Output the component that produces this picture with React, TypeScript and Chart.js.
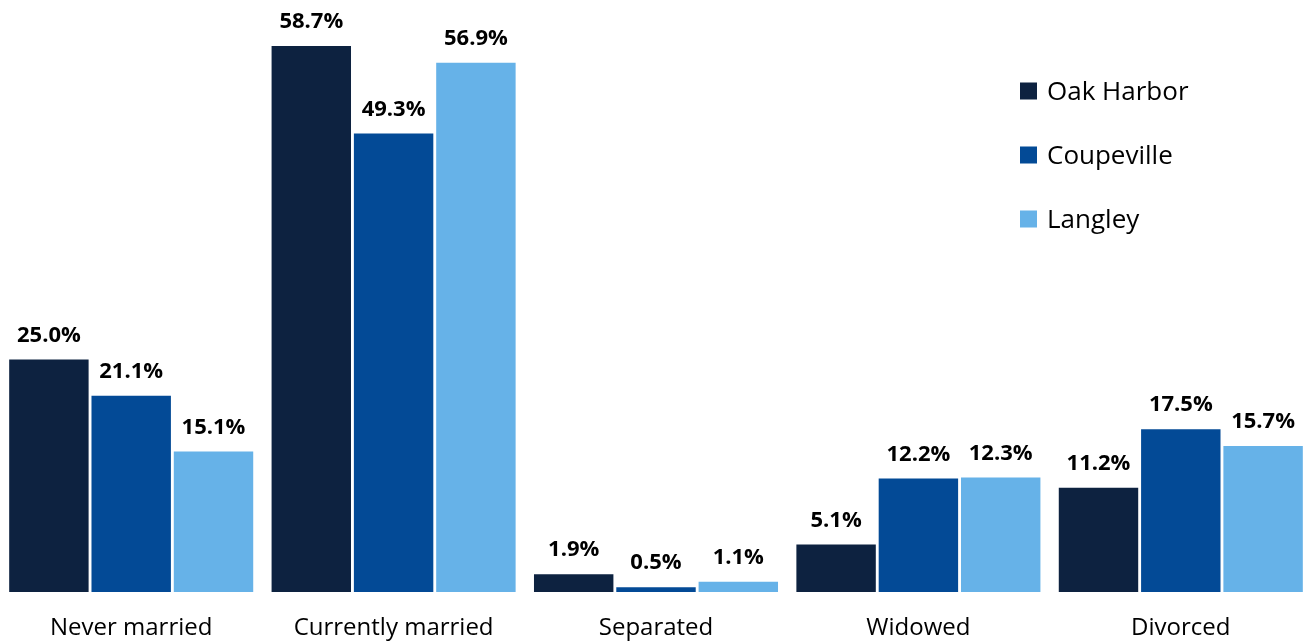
import React, { useEffect, useRef } from "react";
import { Chart, registerables } from "chart.js";

Chart.register(...registerables);

const categories = ["Never married", "Currently married", "Separated", "Widowed", "Divorced"];
const seriesNames = ["Oak Harbor", "Coupeville", "Langley"];
const oakHarbor = [25.0, 58.7, 1.9, 5.1, 11.2];
const coupeville = [21.1, 49.3, 0.5, 12.2, 17.5];
const langley = [15.1, 56.9, 1.1, 12.3, 15.7];
const seriesColors = ["#0D2240", "#034A96", "#66B2E8"];

const FONT = "'Open Sans', Carlito, Lato, sans-serif";

const valueLabelsPlugin = {
  id: "valueLabels",
  afterDatasetsDraw(chart: any) {
    const ctx = chart.ctx;
    ctx.save();
    ctx.font = `bold 22px ${FONT}`;
    ctx.fillStyle = "#000000";
    ctx.textAlign = "center";
    ctx.textBaseline = "alphabetic";
    chart.data.datasets.forEach((ds: any, i: number) => {
      const meta = chart.getDatasetMeta(i);
      meta.data.forEach((bar: any, j: number) => {
        const v = ds.data[j] as number;
        ctx.fillText(v.toFixed(1) + "%", bar.x, bar.y - 18);
      });
    });
    ctx.restore();
  },
};

const legendPlugin = {
  id: "sideLegend",
  afterDraw(chart: any) {
    const ctx = chart.ctx;
    ctx.save();
    ctx.font = `26px ${FONT}`;
    ctx.textBaseline = "alphabetic";
    ctx.textAlign = "left";
    chart.data.datasets.forEach((ds: any, i: number) => {
      const cy = 91 + i * 64;
      ctx.fillStyle = ds.backgroundColor;
      ctx.fillRect(1020, cy - 8.5, 17, 17);
      ctx.fillStyle = "#000000";
      ctx.fillText(ds.label, 1047, cy + 9);
    });
    ctx.restore();
  },
};

export default function App() {
  const canvasRef = useRef<HTMLCanvasElement | null>(null);

  useEffect(() => {
    if (!canvasRef.current) return;
    const seriesData = [oakHarbor, coupeville, langley];
    const chart = new Chart(canvasRef.current, {
      type: "bar",
      data: {
        labels: categories,
        datasets: seriesNames.map((name, i) => ({
          label: name,
          data: seriesData[i],
          backgroundColor: seriesColors[i],
          borderWidth: 0,
          barPercentage: 0.965,
          categoryPercentage: 0.941,
        })),
      },
      options: {
        animation: false,
        responsive: true,
        maintainAspectRatio: false,
        layout: { padding: { left: -3, right: 4, top: 34, bottom: -20 } },
        plugins: {
          legend: { display: false },
          tooltip: { enabled: false },
        },
        scales: {
          x: {
            grid: { display: false, drawTicks: false },
            border: { display: false },
            ticks: {
              color: "#000000",
              font: { family: FONT, size: 24, lineHeight: 1.0 },
              padding: 24,
              autoSkip: false,
              maxRotation: 0,
            },
          },
          y: {
            display: false,
            min: 0,
            max: 60,
          },
        },
      },
      plugins: [valueLabelsPlugin, legendPlugin],
    });
    return () => chart.destroy();
  }, []);

  return (
    <div style={{ position: "absolute", left: 0, top: 0, width: 1316, height: 644, background: "#ffffff" }}>
      <canvas ref={canvasRef} />
    </div>
  );
}
